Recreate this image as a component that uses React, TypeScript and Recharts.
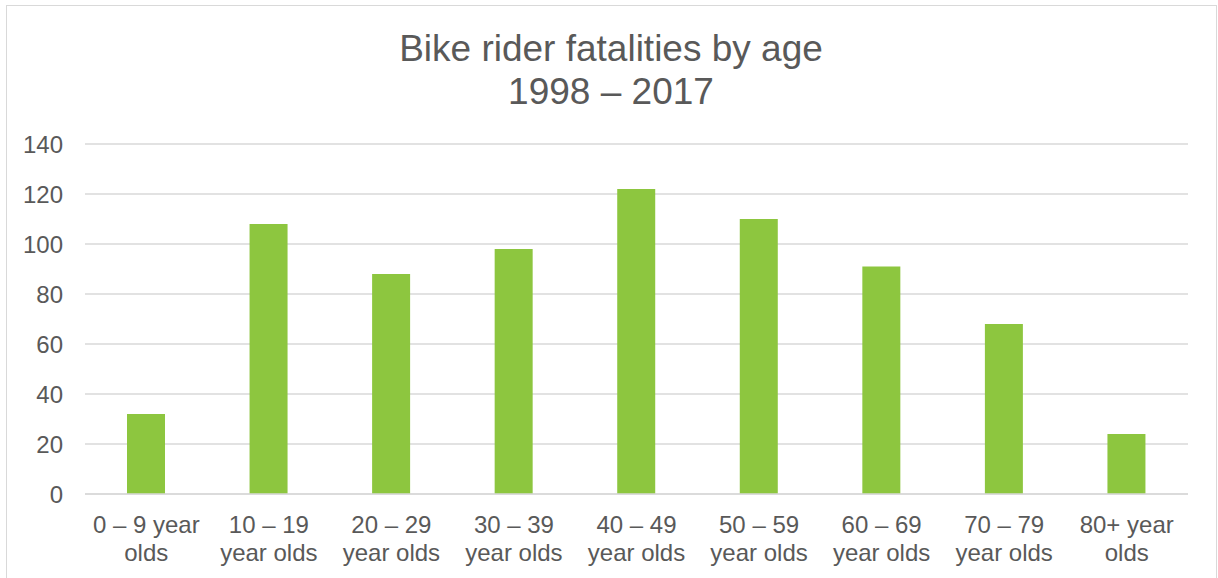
import React from 'react'
import { Bar, BarChart, CartesianGrid, XAxis, YAxis } from 'recharts'

const categories = [
  '0 – 9 year\nolds',
  '10 – 19\nyear olds',
  '20 – 29\nyear olds',
  '30 – 39\nyear olds',
  '40 – 49\nyear olds',
  '50 – 59\nyear olds',
  '60 – 69\nyear olds',
  '70 – 79\nyear olds',
  '80+ year\nolds',
]
const fatalities = [32, 108, 88, 98, 122, 110, 91, 68, 24]
const yTicks = [0, 20, 40, 60, 80, 100, 120, 140]

const data = categories.map((age, i) => ({ age, fatalities: fatalities[i] }))

const font = '"Liberation Sans", Arial, sans-serif'
const grey = '#595959'

const AgeTick = ({ x, y, payload }: any) => {
  const lines = String(payload.value).split('\n')
  return (
    <text x={x} y={y} textAnchor="middle" fill={grey} fontSize={24} fontFamily={font}>
      {lines.map((l, i) => (
        <tspan key={i} x={x} dy={i === 0 ? 37 : 28}>
          {l}
        </tspan>
      ))}
    </text>
  )
}

const App = () => {
  return (
    <div style={{ position: 'absolute', left: 0, top: 0, width: 1218, height: 578, overflow: 'hidden', background: '#fff' }}>
      <div
        style={{
          position: 'absolute',
          left: 6,
          top: 5,
          width: 1209,
          height: 620,
          border: '1px solid #d9d9d9',
        }}
      />
      <div
        style={{
          position: 'absolute',
          left: 0,
          top: 27,
          width: 1222,
          textAlign: 'center',
          fontFamily: font,
          fontSize: 37,
          lineHeight: '43px',
          color: grey,
        }}
      >
        Bike rider fatalities by age
        <br />
        1998 – 2017
      </div>
      <div style={{ position: 'absolute', left: 0, top: 0 }}>
        <BarChart width={1218} height={578} data={data} margin={{ top: 144, right: 30, bottom: 54, left: 10 }}>
          <CartesianGrid vertical={false} stroke="#d9d9d9" strokeWidth={1.3} />
          <XAxis
            dataKey="age"
            interval={0}
            height={30}
            tickLine={false}
            tickSize={0}
            axisLine={{ stroke: '#d9d9d9', strokeWidth: 1.3 }}
            tick={<AgeTick />}
          />
          <YAxis
            domain={[0, 140]}
            ticks={yTicks}
            width={75}
            axisLine={false}
            tickLine={false}
            tickSize={0}
            tickMargin={22}
            tick={{ fill: grey, fontSize: 24, fontFamily: font }}
          />
          <Bar dataKey="fatalities" fill="#8DC63F" barSize={38} isAnimationActive={false} />
        </BarChart>
      </div>
    </div>
  )
}

export default App
